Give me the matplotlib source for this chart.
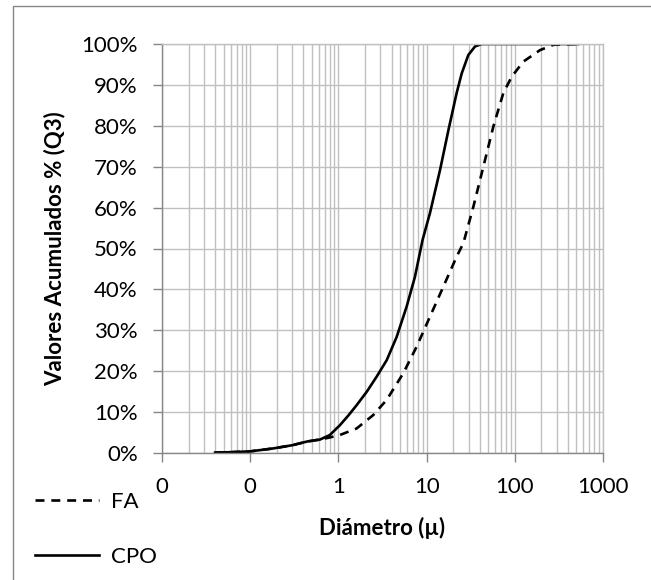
import numpy as np
import matplotlib
matplotlib.use("Agg")
import matplotlib.pyplot as plt
from matplotlib.ticker import LogLocator, FixedLocator, FuncFormatter, NullFormatter
from matplotlib.patches import Rectangle

plt.rcParams["font.family"] = ["Lato", "DejaVu Sans"]

# --- data (diameter in µ, cumulative % Q3) ---
cpo_d = [0.04, 0.06, 0.1, 0.18, 0.3, 0.44, 0.62, 0.8, 1.04, 1.3, 1.61, 2.1, 2.72,
         3.53, 4.58, 5.94, 7.38, 9.0, 10.9, 14.2, 17.7, 21.9, 25.0, 29.7, 35.4,
         42.1, 60, 100, 200, 520]
cpo_q = [0.1, 0.2, 0.4, 1.1, 1.9, 2.8, 3.3, 4.4, 6.8, 9.2, 11.7, 15.0, 18.7,
         22.7, 28.4, 35.8, 43.1, 52.1, 58.6, 69.2, 79.0, 88.0, 92.8, 97.3, 99.4,
         100, 100, 100, 100, 100]

fa_d = [0.04, 0.06, 0.1, 0.18, 0.3, 0.44, 0.62, 0.8, 1.04, 1.61, 2.49, 3.53, 5.44,
        7.71, 10.9, 15.5, 21.9, 26.1, 33.9, 44.0, 57.1, 74.1, 92.2, 125, 193, 274, 520]
fa_q = [0.1, 0.2, 0.4, 1.1, 1.9, 2.8, 3.3, 3.8, 4.4, 6.0, 9.3, 13.0, 19.5,
        26.0, 33.3, 40.7, 48.0, 51.3, 60.2, 70.0, 79.8, 88.0, 92.0, 95.7, 98.5, 99.8, 100]

x_ticks = [0.01, 0.1, 1, 10, 100, 1000]
x_labels = ["0", "0", "1", "10", "100", "1000"]
y_ticks = list(range(0, 101, 10))

AX_GRAY = "#868686"
GRID_GRAY = "#c0c0c0"
FS = 16

fig = plt.figure(figsize=(6.51, 5.80), dpi=100)
ax = fig.add_axes([162 / 651, 1 - 453 / 580, (603 - 162) / 651, (453 - 44) / 580])

l_fa, = ax.plot(fa_d, fa_q, color="black", linewidth=1.9, dashes=(3.4, 2.6), label="FA")
l_cpo, = ax.plot(cpo_d, cpo_q, color="black", linewidth=1.9, label="CPO")

ax.set_xscale("log")
ax.set_xlim(0.01, 1000)
ax.set_ylim(0, 100)

ax.xaxis.set_major_locator(FixedLocator(x_ticks))
ax.set_xticklabels(x_labels)
ax.xaxis.set_minor_locator(LogLocator(base=10, subs=np.arange(2, 10), numticks=20))
ax.xaxis.set_minor_formatter(NullFormatter())
ax.set_yticks(y_ticks)
ax.yaxis.set_major_formatter(FuncFormatter(lambda v, _: f"{v:.0f}%"))

ax.grid(True, which="both", color=GRID_GRAY, linewidth=1.0)
ax.set_axisbelow(True)
ax.tick_params(which="major", direction="out", length=6.5, width=1.0, color=AX_GRAY,
               labelsize=FS, pad=11)
ax.tick_params(which="minor", length=0)
for side in ["left", "bottom"]:
    ax.spines[side].set_color(AX_GRAY)
    ax.spines[side].set_linewidth(1.0)
for side in ["top", "right"]:
    ax.spines[side].set_color(GRID_GRAY)
    ax.spines[side].set_linewidth(1.0)

ax.set_xlabel("Diámetro (µ)", fontsize=FS, fontweight="bold", labelpad=14)
ax.set_ylabel("Valores Acumulados % (Q3)", fontsize=FS, fontweight="bold")
ax.yaxis.set_label_coords(-0.218, 0.5)

fig.legend(handles=[l_fa, l_cpo], loc="upper left", bbox_to_anchor=(35 / 651, 1 - 492 / 580),
           frameon=False, fontsize=FS, borderpad=0, borderaxespad=0,
           handlelength=2.9, handletextpad=0.5, labelspacing=1.57)

# outer chart border
fig.add_artist(Rectangle((13 / 651, -0.1), 1.0, 1.1 - 6 / 580, transform=fig.transFigure,
                         fill=False, edgecolor=AX_GRAY, linewidth=1.0))

fig.savefig("out.png", dpi=100)
